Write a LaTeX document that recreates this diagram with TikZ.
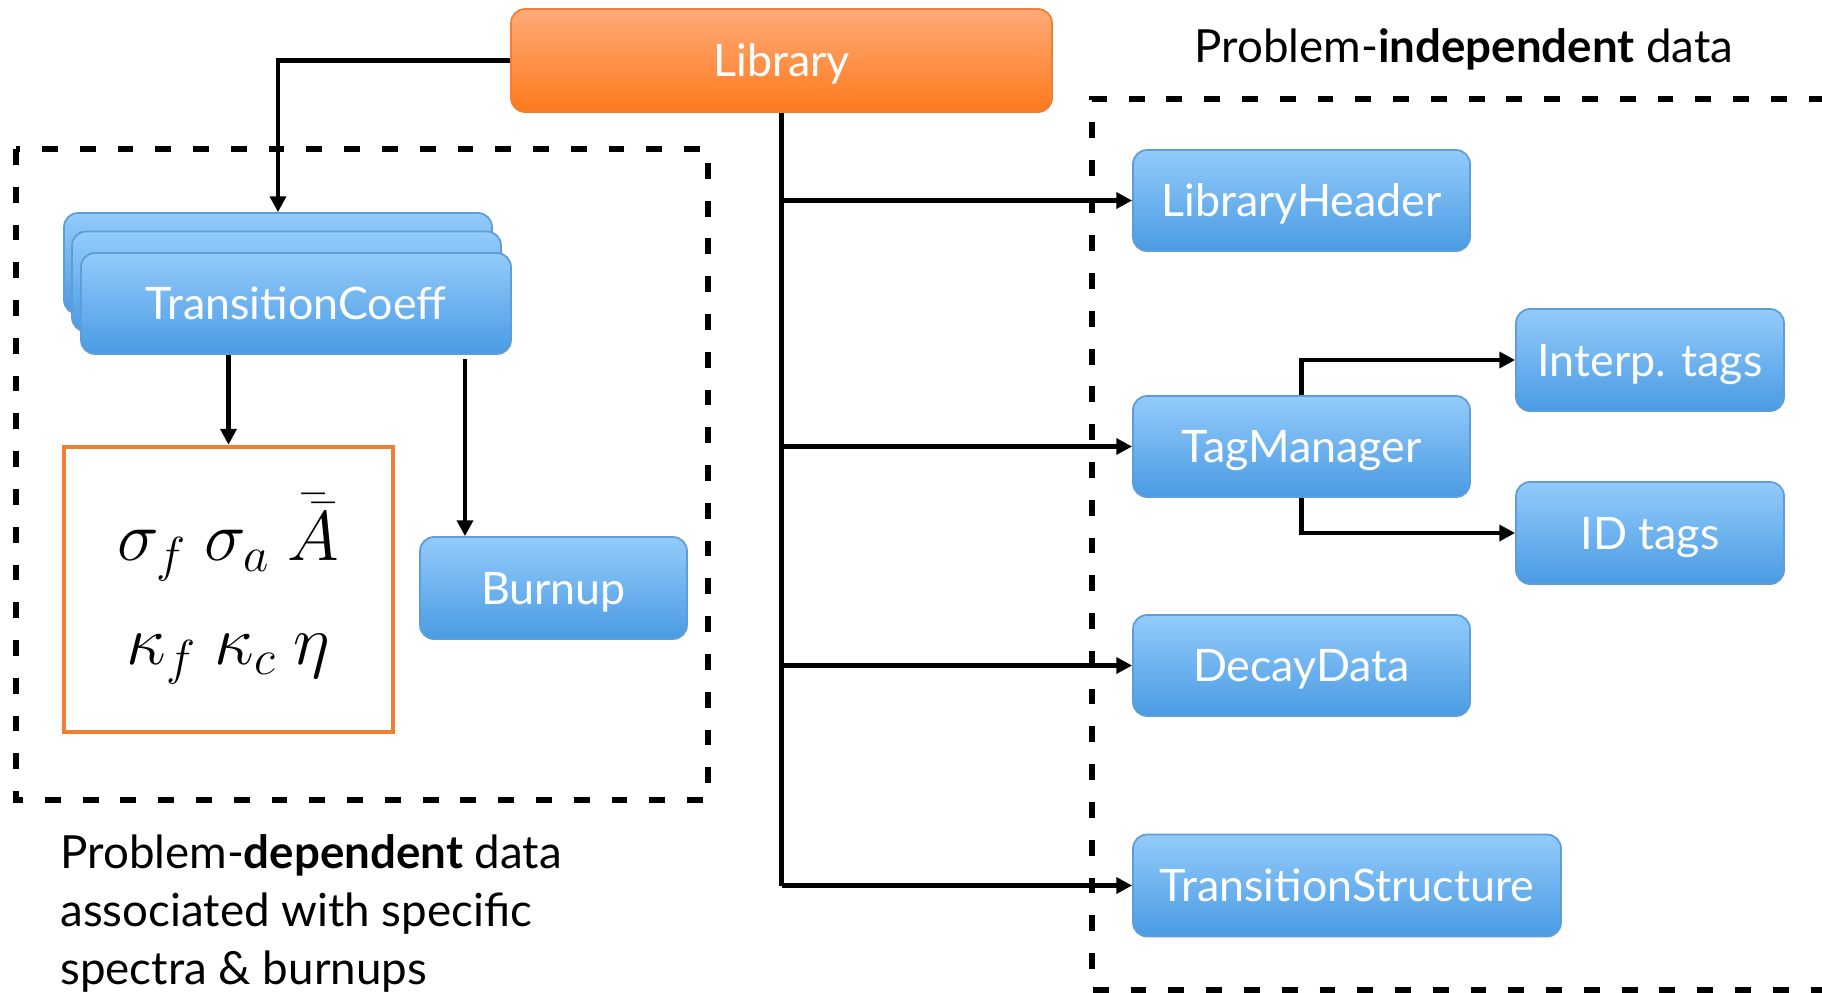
\RequirePackage{fix-cm}
\documentclass[tikz,border=0pt]{standalone}
\usepackage{fontspec}
\setmainfont{Lato}
\usetikzlibrary{arrows.meta}
\def\u{0.02cm}
\definecolor{bluetop}{HTML}{93CBFB}
\definecolor{bluebot}{HTML}{4A9BE3}
\definecolor{blueedge}{HTML}{5E9DD8}
\definecolor{orgtop}{HTML}{FFAA7A}
\definecolor{orgbot}{HTML}{FF7A1C}
\definecolor{orgedge}{HTML}{EE7F33}
\tikzset{
  boxtext/.style={text=white, font=\fontsize{25.5}{28}\selectfont, inner sep=0pt, text height=18.3pt, text depth=0pt},
  bluebox/.style={draw=blueedge, line width=1pt, rounded corners=8pt, top color=bluetop, bottom color=bluebot, boxtext},
  libbox/.style={draw=orgedge, line width=1pt, rounded corners=8pt, top color=orgtop, bottom color=orgbot, boxtext},
  conn/.style={line width=2.6pt, -{Triangle[length=9pt,width=9pt]}},
  plain/.style={line width=2.6pt},
  groupbox/.style={draw, line width=3pt, dash pattern=on 9pt off 12.5pt},
  lbl/.style={font=\fontsize{26}{33}\selectfont, inner sep=0pt}
}
\begin{document}
\begin{tikzpicture}[x=0.02cm, y=-0.02cm]
\useasboundingbox (0,0) rectangle (1822,992);
% group boxes
\draw[groupbox] (16,149) rectangle (708,800);
\draw[groupbox] (1900,99) -- (1092,99) -- (1092,990) -- (1900,990);
% labels
\node[lbl, anchor=base] (indep) at (1464,62) {Problem-\textbf{independent} data};
\node[lbl, anchor=north west, align=left] (dep) at (60,834) {Problem-\textbf{dependent} data\\associated with specific\\spectra \& burnups};
% library
\node[libbox, minimum width=541*\u, minimum height=103*\u] (lib) at (781.5,60.5) {Library};
% transition coeff stack
\node[bluebox, minimum width=428*\u, minimum height=101*\u] (tc3) at (278,263.5) {};
\node[bluebox, minimum width=429*\u, minimum height=100*\u] (tc2) at (286.5,281.5) {};
\node[bluebox, minimum width=430*\u, minimum height=101*\u] (tc) at (296,303.5) {TransitionCoeff};
% params
\node[draw=orgedge, line width=2.6pt, fill=white, minimum width=329*\u, minimum height=285*\u, align=center, font=\fontsize{40}{59}\selectfont] (par) at (228.5,589.5) {$\sigma_f\ \sigma_a\ \bar{\bar{A}}$\\$\kappa_f\ \kappa_c\ \eta$};
\node[bluebox, minimum width=267*\u, minimum height=102*\u] (burn) at (553.5,588) {Burnup};
% right boxes
\node[bluebox, minimum width=337*\u, minimum height=101*\u] (lh) at (1301.5,200.5) {LibraryHeader};
\node[bluebox, minimum width=337*\u, minimum height=101*\u] (tm) at (1301.5,446.5) {TagManager};
\node[bluebox, minimum width=337*\u, minimum height=101*\u] (dd) at (1301.5,665.5) {DecayData};
\node[bluebox, minimum width=428*\u, minimum height=102*\u] (ts) at (1347,885.5) {TransitionStructure};
\node[bluebox, minimum width=268*\u, minimum height=102*\u] (it) at (1650,360) {Interp. tags};
\node[bluebox, minimum width=268*\u, minimum height=102*\u] (idt) at (1650,533) {ID tags};
% connectors
\draw[conn] (lib.west) -| (tc3.north);
\draw[conn] (tc.south -| par.north) -- (par.north);
\draw[conn] ([yshift=-2.5pt]tc.south -| 465,0) -- (burn.north -| 465,0);
\coordinate (jn) at (lib.south |- ts.west);
\draw[plain] (lib.south) -- (jn);
\draw[conn] (lib.south |- lh.west) -- (lh.west);
\draw[conn] (lib.south |- tm.west) -- (tm.west);
\draw[conn] (lib.south |- dd.west) -- (dd.west);
\draw[conn] (jn) -- (ts.west);
\draw[conn] (tm.north) |- (it.west);
\draw[conn] (tm.south) |- (idt.west);
\end{tikzpicture}
\end{document}
